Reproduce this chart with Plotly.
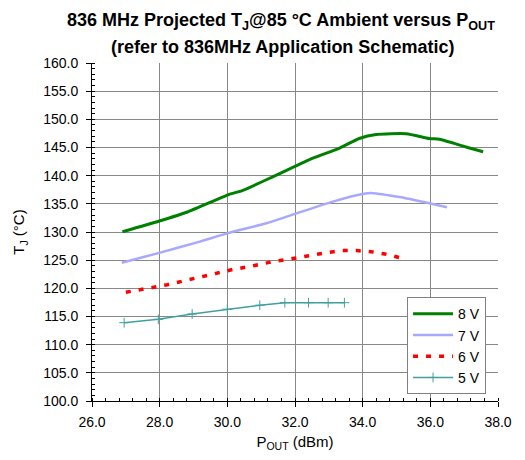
import plotly.graph_objects as go

# 8 V
x8 = [26.9, 27.99, 28.84, 30.02, 30.46, 31.45, 32.53, 33.32, 33.9, 34.4, 35.28, 35.97, 36.27, 37.05, 37.56]
y8 = [130.05, 131.95, 133.6, 136.6, 137.4, 140.1, 143.1, 144.9, 146.6, 147.3, 147.45, 146.6, 146.45, 145.1, 144.25]
# 7 V
x7 = [26.88, 27.99, 29.19, 30.02, 31.15, 32.04, 33.12, 34.0, 34.3, 35.09, 35.97, 36.49]
y7 = [124.55, 126.3, 128.3, 129.8, 131.55, 133.3, 135.4, 136.75, 136.9, 136.2, 135.1, 134.4]
# 6 V
x6 = [27.0, 27.42, 27.83, 28.23, 28.62, 29.02, 29.4, 29.8, 30.2, 30.6, 31.0, 31.4, 31.81, 32.2, 32.6, 33.0, 33.4, 33.83, 34.25, 34.66, 35.09]
y6 = [119.3, 119.7, 120.2, 120.65, 121.2, 121.8, 122.3, 122.85, 123.4, 123.8, 124.3, 124.8, 125.15, 125.6, 126.0, 126.4, 126.7, 126.7, 126.5, 126.1, 125.45]
# 5 V
x5 = [26.95, 27.96, 28.96, 30.0, 30.96, 31.7, 32.4, 32.98, 33.46]
y5 = [113.9, 114.5, 115.45, 116.3, 117.0, 117.45, 117.45, 117.45, 117.45]

x_ticks = [26, 28, 30, 32, 34, 36, 38]
y_ticks = list(range(100, 161, 5))

FONT = "Liberation Sans, Arial, sans-serif"

fig = go.Figure()
fig.add_trace(go.Scatter(x=x8, y=y8, name="8 V", mode="lines",
                         line=dict(color="#008000", width=3, shape="spline", smoothing=0.6)))
fig.add_trace(go.Scatter(x=x7, y=y7, name="7 V", mode="lines",
                         line=dict(color="#a8a8ff", width=2.5, shape="spline", smoothing=0.6)))
fig.add_trace(go.Scatter(x=x6, y=y6, name="6 V", mode="lines",
                         line=dict(color="#ff0000", width=3.5, dash="5px,8px")))
fig.add_trace(go.Scatter(x=x5, y=y5, name="5 V", mode="lines+markers",
                         line=dict(color="#40a0a0", width=1.5),
                         marker=dict(symbol="cross-thin", size=7, line=dict(color="#40a0a0", width=1))))

fig.update_layout(
    width=517, height=452,
    margin=dict(l=84, r=27, t=55, b=59),
    paper_bgcolor="white", plot_bgcolor="white",
    font=dict(family=FONT, size=14, color="black"),
    showlegend=True,
    legend=dict(x=0.776, y=0.02, xanchor="left", yanchor="bottom",
                bgcolor="white", bordercolor="#808080", borderwidth=1,
                font=dict(family=FONT, size=14), itemwidth=40, tracegroupgap=0),
    xaxis=dict(
        range=[26, 38], tickvals=x_ticks, ticktext=[f"{v:.1f}" for v in x_ticks],
        showgrid=True, gridcolor="#888888", gridwidth=1,
        showline=True, linecolor="black", linewidth=1, mirror=False,
        ticks="outside", ticklen=5, tickcolor="black", ticklabelstandoff=3,
        minor=dict(dtick=0.4, ticks="inside", ticklen=3, tickcolor="black", showgrid=False),
        zeroline=False, tickfont=dict(size=14),
        title=dict(text="P<sub>OUT</sub> (dBm)", font=dict(family=FONT, size=15), standoff=7),
    ),
    yaxis=dict(
        range=[100, 160], tickvals=y_ticks, ticktext=[f"{v:.1f}" for v in y_ticks],
        showgrid=True, gridcolor="#888888", gridwidth=1,
        showline=True, linecolor="black", linewidth=1,
        ticks="outside", ticklen=5, tickcolor="black", ticklabelstandoff=5,
        minor=dict(dtick=1, ticks="inside", ticklen=3, tickcolor="black", showgrid=False),
        zeroline=False, tickfont=dict(size=14),
        title=dict(text="T<sub>J</sub> (°C)", font=dict(family=FONT, size=15), standoff=14),
    ),
    annotations=[
        dict(text="<b>836 MHz Projected T<sub>J</sub>@85 °C Ambient versus P<sub>OUT</sub></b>",
             xref="paper", yref="paper", x=0.465, y=1.0, yshift=42, xanchor="center", yanchor="middle",
             showarrow=False, font=dict(family=FONT, size=18, color="black")),
        dict(text="<b>(refer to 836MHz Application Schematic)</b>",
             xref="paper", yref="paper", x=0.47, y=1.0, yshift=16, xanchor="center", yanchor="middle",
             showarrow=False, font=dict(family=FONT, size=18, color="black")),
    ],
)

fig.write_html("out.html")
